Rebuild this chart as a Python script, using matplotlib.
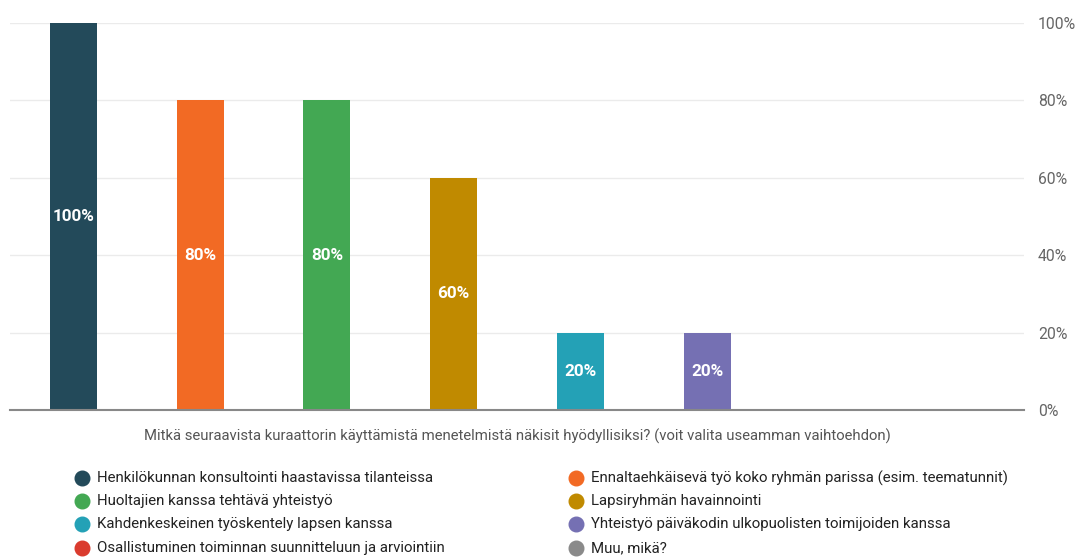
import matplotlib.pyplot as plt
from matplotlib.lines import Line2D

plt.rcParams['font.family'] = ['Roboto', 'DejaVu Sans']

# data
categories = [
    'Henkilökunnan konsultointi haastavissa tilanteissa',
    'Ennaltaehkäisevä työ koko ryhmän parissa (esim. teematunnit)',
    'Huoltajien kanssa tehtävä yhteistyö',
    'Lapsiryhmän havainnointi',
    'Kahdenkeskeinen työskentely lapsen kanssa',
    'Yhteistyö päiväkodin ulkopuolisten toimijoiden kanssa',
    'Osallistuminen toiminnan suunnitteluun ja arviointiin',
    'Muu, mikä?',
]
values = [100, 80, 80, 60, 20, 20, 0, 0]
colors = ['#234a5a', '#f26a24', '#43a853', '#c08a00',
          '#24a1b6', '#7570b3', '#da3b2e', '#8a8a8a']
yticks = [0, 20, 40, 60, 80, 100]
xlabel = 'Mitkä seuraavista kuraattorin käyttämistä menetelmistä näkisit hyödyllisiksi? (voit valita useamman vaihtoehdon)'

fig = plt.figure(figsize=(10.76, 5.58), dpi=100)
ax = fig.add_axes([10 / 1076, 1 - 410 / 558, 1014 / 1076, 387 / 558])

x = list(range(len(values)))
ax.bar(x, values, width=0.37, color=colors, zorder=3)
for xi, v in zip(x, values):
    if v > 0:
        ax.text(xi, v / 2, f'{v}%', ha='center', va='center',
                color='white', fontsize=12.3, fontweight='bold', zorder=4)

ax.set_xlim(-0.5, len(values) - 0.5)
ax.set_ylim(0, 100)
ax.yaxis.tick_right()
ax.set_yticks(yticks)
ax.set_yticklabels([f'{t}%' for t in yticks], color='#666666', fontsize=11.3)
ax.tick_params(axis='y', length=0, pad=10)
ax.set_xticks([])
ax.grid(axis='y', color='#ebebeb', linewidth=1, zorder=0)
for s in ['top', 'left', 'right']:
    ax.spines[s].set_visible(False)
ax.spines['bottom'].set_color('#888888')
ax.spines['bottom'].set_linewidth(1.5)
ax.spines['bottom'].set_zorder(5)

fig.text(517 / 1076, 1 - 436 / 558, xlabel, ha='center', va='center',
         color='#555555', fontsize=10.75)

# legend, two columns, row-wise
col_x = [82, 576]
row_y = [478, 501, 524, 548]
for i, (lab, c) in enumerate(zip(categories, colors)):
    cx = col_x[i % 2]
    cy = row_y[i // 2]
    fig.add_artist(Line2D([cx / 1076], [1 - cy / 558], marker='o', markersize=10.5,
                          color=c, linestyle='none', transform=fig.transFigure))
    fig.text((cx + 15) / 1076, 1 - cy / 558, lab, ha='left', va='center',
             color='#222222', fontsize=10.8)

fig.savefig('out.png', dpi=100)
